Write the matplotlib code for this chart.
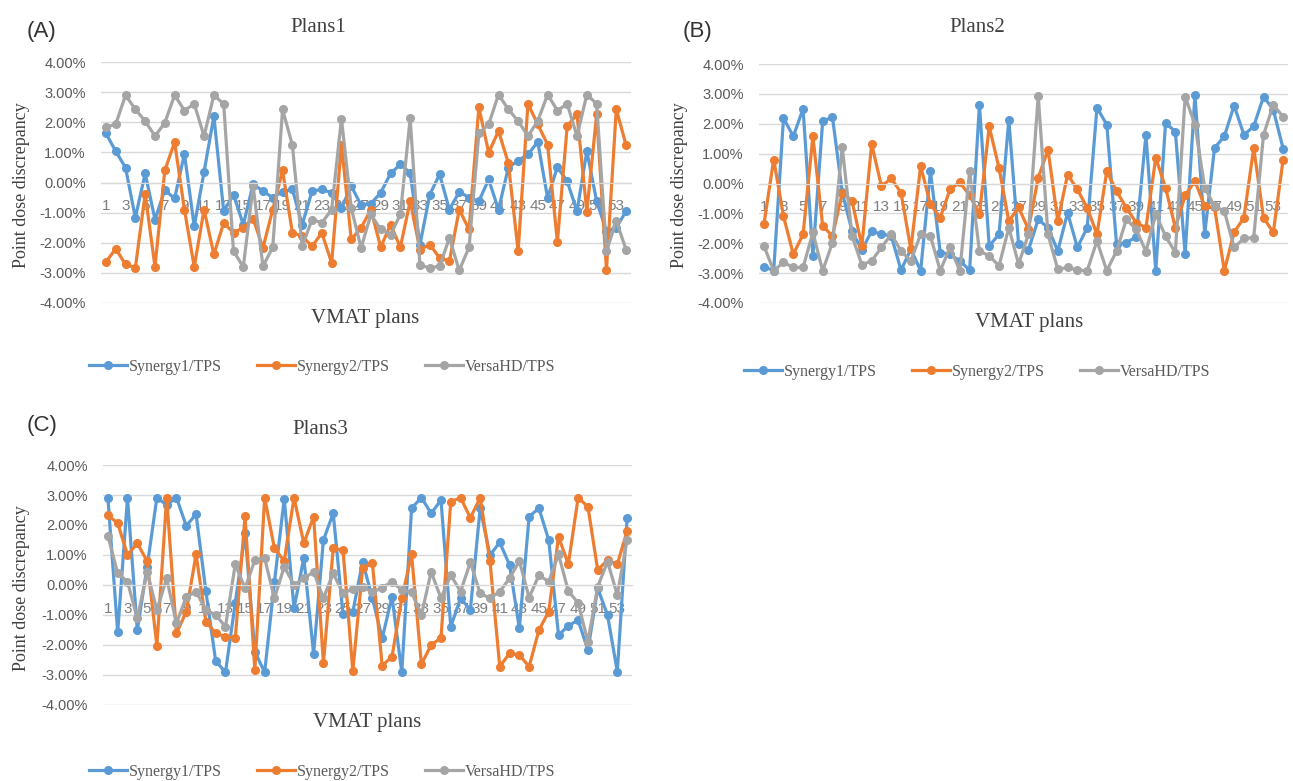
import numpy as np
import matplotlib
matplotlib.use('Agg')
import matplotlib.pyplot as plt
from matplotlib.ticker import FixedLocator, FuncFormatter

# %% DATA (point dose discrepancy in %)
plans = np.arange(1, 55)
series_names = ['Synergy1/TPS', 'Synergy2/TPS', 'VersaHD/TPS']

synergy1_p1 = [1.63, 1.04, 0.49, -1.17, 0.30, -1.23, -0.25, -0.53, 0.95, -1.45,
               0.35, 2.20, -0.95, -0.40, -1.40, -0.05, -0.29, -0.50, -0.30, -0.23,
               -1.40, -0.29, -0.23, -0.34, -0.84, -0.12, -0.75, -0.70, -0.34, 0.30,
               0.60, 0.32, -2.06, -0.40, 0.27, -0.90, -0.31, -0.50, -0.62, 0.10,
               -0.90, 0.49, 0.73, 0.93, 1.35, -0.51, 0.51, 0.04, -0.95, 1.04,
               -0.62, -1.62, -1.50, -0.95]
synergy2_p1 = [-2.64, -2.20, -2.72, -2.83, -0.38, -2.80, 0.40, 1.34, -0.90, -2.80,
               -0.90, -2.39, -1.34, -1.67, -1.50, -1.20, -2.17, -0.90, 0.40, -1.67,
               -1.78, -2.12, -1.67, -2.67, 1.26, -1.89, -1.50, -0.90, -2.15, -1.40,
               -2.15, -0.62, -2.23, -2.06, -2.50, -2.61, -0.90, -1.56, 2.50, 0.99,
               1.71, 0.65, -2.28, 2.61, 1.93, 1.26, -1.97, 1.87, 2.26, -0.97,
               2.26, -2.89, 2.43, 1.24]
versahd_p1 = [1.84, 1.93, 2.90, 2.43, 2.04, 1.54, 1.98, 2.90, 2.39, 2.61,
              1.54, 2.90, 2.61, -2.28, -2.80, -0.12, -2.78, -2.15, 2.43, 1.24,
              -2.12, -1.23, -1.34, -0.90, 2.12, -0.85, -2.17, -1.06, -1.56, -1.73,
              -1.06, 2.13, -2.75, -2.83, -2.78, -1.84, -2.92, -2.15, 1.63, 1.93,
              2.92, 2.43, 2.04, 1.54, 2.04, 2.92, 2.39, 2.61, 1.54, 2.92,
              2.61, -2.28, -1.28, -2.23]

synergy1_p2 = [-2.78, -2.92, 2.19, 1.58, 2.50, -2.42, 2.08, 2.22, -0.30, -1.60,
               -2.23, -1.59, -1.70, -1.75, -2.90, -2.20, -2.92, 0.41, -2.31, -2.37,
               -2.59, -2.90, 2.63, -2.09, -1.70, 2.13, -2.03, -2.23, -1.20, -1.48,
               -2.26, -0.98, -2.14, -1.48, 2.54, 1.97, -2.03, -1.98, -1.79, 1.63,
               -2.92, 2.02, 1.74, -2.37, 2.97, -1.68, 1.19, 1.58, 2.61, 1.63,
               1.91, 2.91, 2.47, 1.17]
synergy2_p2 = [-1.37, 0.80, -1.09, -2.37, -1.70, 1.58, -1.42, -1.76, -0.31, -0.59,
               -2.09, 1.32, -0.09, 0.17, -0.31, -2.20, 0.58, -0.70, -1.14, -0.20,
               0.04, -0.40, -1.03, 1.91, 0.52, -1.26, -0.80, -1.53, 0.19, 1.13,
               -1.26, 0.30, -0.20, -0.81, -1.70, 0.41, -0.26, -0.81, -1.31, -1.48,
               0.86, -0.14, -1.48, -0.40, 0.08, -0.76, -0.80, -2.92, -1.64, -1.14,
               1.19, -1.14, -1.64, 0.80]
versahd_p2 = [-2.09, -2.92, -2.64, -2.81, -2.81, -1.64, -2.92, -1.98, 1.21, -1.76,
              -2.72, -2.59, -2.14, -1.70, -2.26, -2.59, -1.70, -1.76, -2.92, -2.14,
              -2.92, 0.41, -2.26, -2.42, -2.76, -1.48, -2.70, -1.70, 2.94, -1.70,
              -2.87, -2.81, -2.90, -2.92, -1.92, -2.92, -2.26, -1.20, -1.53, -2.28,
              -1.03, -1.76, -2.31, 2.91, 1.97, -0.14, -0.76, -0.92, -2.14, -1.84,
              -1.81, 1.63, 2.63, 2.24]

synergy1_p3 = [2.91, -1.58, 2.91, -1.50, 0.60, 2.91, 2.67, 2.91, 1.97, 2.36,
               -0.20, -2.53, -2.91, -0.60, 1.72, -2.22, -2.91, 0.10, 2.87, -0.78,
               0.91, -2.31, 1.50, 2.39, -0.98, -0.90, 0.78, -0.44, -1.78, -0.39,
               -2.91, 2.56, 2.91, 2.39, 2.83, -1.39, -0.44, -0.83, 2.56, 1.00,
               1.42, 0.67, -1.44, 2.28, 2.56, 1.50, -1.67, -1.36, -1.17, -2.17,
               -0.11, -1.00, -2.89, 2.22]
synergy2_p3 = [2.33, 2.06, 1.00, 1.39, 0.80, -2.02, 2.91, -1.61, -0.89, 1.02,
               -1.22, -1.61, -1.72, -1.78, 2.30, -2.83, 2.91, 1.22, 0.80, 2.91,
               1.39, 2.28, -2.61, 1.22, 1.17, -2.87, 0.56, 0.72, -2.69, -2.39,
               -0.44, 1.02, -2.64, -2.00, -1.76, 2.78, 2.91, 2.24, 2.91, 0.80,
               -2.72, -2.28, -2.33, -2.72, -1.50, -0.89, 1.61, 0.69, 2.91, 2.61,
               0.50, 0.83, 0.69, 1.80]
versahd_p3 = [1.64, 0.39, 0.11, -1.11, 0.44, -0.83, 0.22, -1.28, -0.39, -0.22,
              -0.83, -1.00, -1.39, 0.69, -0.11, 0.83, 0.89, -0.44, 0.61, 0.00,
              0.22, 0.44, -0.44, 0.39, -0.28, -0.13, -0.06, -0.24, -0.09, 0.11,
              -0.17, -0.24, -1.00, 0.44, -0.44, 0.33, -0.22, 0.76, -0.28, -0.44,
              -0.22, 0.22, 0.80, -0.42, 0.33, 0.11, 1.02, -0.20, -0.60, -1.89,
              -0.06, 0.78, -0.33, 1.50]

colors = ['#5B9BD5', '#ED7D31', '#A5A5A5']
W, H = 1293, 781
SERIF = 'Liberation Serif'
SANS = 'Liberation Sans'


def fx(px):
    return px / W


def fy(py):
    return 1 - py / H


def add_panel(fig, box, data, letter, title, letter_xy, title_xy, ylab_xy, xlab_xy, leg_xy):
    left, top, right, bottom = box
    ax = fig.add_axes([fx(left), fy(bottom), fx(right - left), (bottom - top) / H])
    for vals, c, name in zip(data, colors, series_names):
        ax.plot(plans, vals, color=c, lw=2.3, marker='o', ms=5.5, label=name,
                solid_joinstyle='round')
    ax.set_xlim(0.5, 54.5)
    ax.set_ylim(-4, 4)
    ax.yaxis.set_major_locator(FixedLocator(np.arange(-4, 5, 1)))
    ax.yaxis.set_major_formatter(FuncFormatter(lambda v, p: '{:.2f}%'.format(v)))
    ax.grid(axis='y', color='#D9D9D9', lw=1.0)
    ax.set_axisbelow(True)
    for s in ['top', 'right', 'left']:
        ax.spines[s].set_visible(False)
    ax.spines['bottom'].set_position(('data', 0))
    ax.spines['bottom'].set_color('#D9D9D9')
    ax.set_xticks(plans[::2])
    ax.set_xticklabels([str(p) for p in plans[::2]], family=SANS, fontsize=11, color='#7F7F7F')
    ax.tick_params(axis='x', length=0, pad=12)
    ax.tick_params(axis='y', length=0, pad=11, labelsize=10.5, labelcolor='#595959')
    for t in ax.get_yticklabels():
        t.set_family(SANS)

    fig.text(fx(letter_xy[0]), fy(letter_xy[1]), letter, family=SANS, fontsize=16,
             ha='center', va='center', color='#333333')
    fig.text(fx(title_xy[0]), fy(title_xy[1]), title, family=SERIF, fontsize=15,
             ha='center', va='center', color='#404040')
    fig.text(fx(ylab_xy[0]), fy(ylab_xy[1]), 'Point dose discrepancy', family=SERIF,
             fontsize=13, rotation=90, ha='center', va='center', color='#404040')
    fig.text(fx(xlab_xy[0]), fy(xlab_xy[1]), 'VMAT plans', family=SERIF, fontsize=15,
             ha='center', va='center', color='#404040')
    ax.legend(loc='center', bbox_to_anchor=(fx(leg_xy[0]), fy(leg_xy[1])),
              bbox_transform=fig.transFigure, ncol=3, frameon=False,
              prop={'family': SERIF, 'size': 11.5}, handlelength=2.4,
              columnspacing=2.2, handletextpad=0.1, labelcolor='#595959')
    return ax


fig = plt.figure(figsize=(W / 100, H / 100), dpi=100)

add_panel(fig, (101, 62, 631, 303), [synergy1_p1, synergy2_p1, versahd_p1],
          '(A)', 'Plans1', (42, 32), (318, 28), (22, 185), (365, 318), (322, 367))
add_panel(fig, (759, 64, 1288, 303), [synergy1_p2, synergy2_p2, versahd_p2],
          '(B)', 'Plans2', (697, 32), (977, 28), (680, 185), (1029, 322), (977, 372))
add_panel(fig, (103, 465, 632, 705), [synergy1_p3, synergy2_p3, versahd_p3],
          '(C)', 'Plans3', (42, 425), (320, 430), (22, 588), (367, 722), (322, 772))

fig.savefig('out.png', dpi=100)
